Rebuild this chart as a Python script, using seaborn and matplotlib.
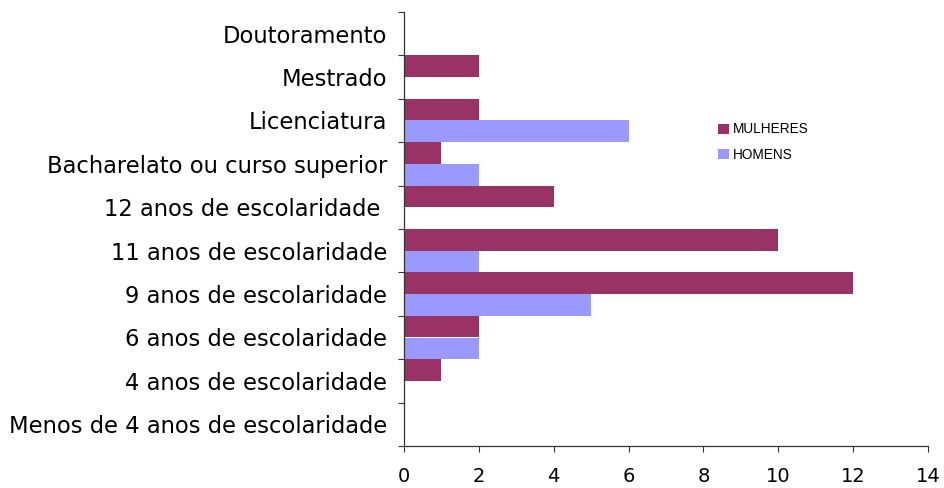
import matplotlib
matplotlib.use("Agg")
import matplotlib.pyplot as plt
import seaborn as sns
import pandas as pd
import numpy as np

categories = [
    "Doutoramento",
    "Mestrado",
    "Licenciatura",
    "Bacharelato ou curso superior",
    "12 anos de escolaridade ",
    "11 anos de escolaridade",
    "9 anos de escolaridade",
    "6 anos de escolaridade",
    "4 anos de escolaridade",
    "Menos de 4 anos de escolaridade",
]
mulheres = [0, 2, 2, 1, 4, 10, 12, 2, 1, 0]
homens = [0, 0, 6, 2, 0, 2, 5, 2, 0, 0]
series_names = ["MULHERES", "HOMENS"]
x_ticks = [0, 2, 4, 6, 8, 10, 12, 14]

df = pd.DataFrame({
    "cat": categories * 2,
    "val": mulheres + homens,
    "sexo": [series_names[0]] * len(categories) + [series_names[1]] * len(categories),
})

sns.set_theme(style="white")
plt.rcParams["font.family"] = ["DejaVu Sans"]

L, R, T, B = 404, 928, 12, 446
fig = plt.figure(figsize=(9.45, 4.88), dpi=100)
ax = fig.add_axes([L / 945, 1 - B / 488, (R - L) / 945, (B - T) / 488])

palette = {"MULHERES": "#993366", "HOMENS": "#9999FF"}
sns.barplot(data=df, x="val", y="cat", hue="sexo", order=categories,
            hue_order=series_names, palette=palette, orient="h",
            width=1.0, dodge=True, saturation=1, linewidth=0,
            edgecolor="none", ax=ax, legend=True)

ax.set_xlim(0, 14)
ax.set_ylim(len(categories) - 0.5, -0.5)
ax.set_xticks(x_ticks)
ax.set_xticklabels([str(t) for t in x_ticks], fontsize=14, color="black")
ax.set_yticks(range(len(categories)))
ax.set_yticklabels(categories, fontsize=16.3, color="black")
ax.set_yticks(np.arange(-0.5, len(categories), 1.0), minor=True)
ax.tick_params(axis="y", which="major", length=0, pad=12)
ax.tick_params(axis="y", which="minor", length=4, width=0.8, color="#333333", direction="out", left=True)
ax.tick_params(axis="x", which="major", length=4, width=0.8, color="#333333", direction="out", bottom=True, pad=11)
ax.set_xlabel("")
ax.set_ylabel("")
for s in ["top", "right"]:
    ax.spines[s].set_visible(False)
for s in ["left", "bottom"]:
    ax.spines[s].set_color("#333333")
    ax.spines[s].set_linewidth(0.9)
ax.grid(False)

handles, labels = ax.get_legend_handles_labels()
leg = ax.legend(handles, labels, loc="upper left",
                bbox_to_anchor=((713 - L) / (R - L), 1 - (117 - T) / (B - T)),
                frameon=False, prop={"family": "Liberation Sans", "size": 9.8},
                handlelength=0.75, handleheight=0.75, handletextpad=0.3, labelspacing=0.85,
                borderaxespad=0)
for t in leg.get_texts():
    t.set_color("black")

fig.savefig("out.png", dpi=100)
